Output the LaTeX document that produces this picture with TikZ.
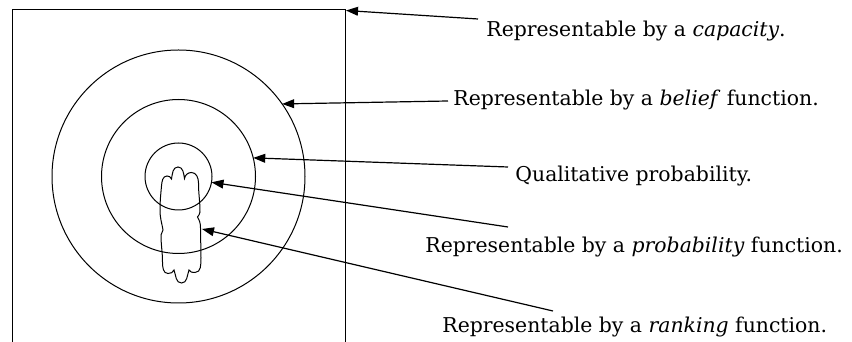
\documentclass[tikz,border=0pt]{standalone}
\usepackage{fontspec}
\setmainfont{DejaVu Serif}
\usetikzlibrary{arrows.meta}
\begin{document}
\begin{tikzpicture}[x=0.5pt,y=0.5pt,
  ring/.style={draw,circle,inner sep=0pt,outer sep=0pt,line width=0.5pt},
  lbl/.style={anchor=base west,inner sep=0pt,font=\fontsize{10.2}{12}\selectfont},
  pointer/.style={-{Triangle[length=6pt,width=4.4pt]},line width=0.6pt}]
\useasboundingbox (0,0) rectangle (852,342);
% frame (capacities)
\coordinate (frTL) at (12,332);
\coordinate (frTR) at (345,332);
\draw[line width=0.5pt] (12,0) -- (frTL) -- (frTR) -- (345,0);
% circles
\node[ring,minimum size=126.5pt] (belief) at (178.5,165.5) {};
\node[ring,minimum size=77pt] (qual) at (178.5,165.5) {};
\node[ring,minimum size=33.5pt] (prob) at (178.5,165.5) {};
% cloud (ranking)
\draw[line width=0.5pt] (161.5,156) to[out=85,in=180] (167,166) to[out=0,in=110] (171.5,163)
  to[out=80,in=180] (178,175) to[out=0,in=100] (184.5,163.5)
  to[out=80,in=180] (191.5,169.5) to[out=0,in=90] (198.5,159)
  to[out=-90,in=90] (200,130) to[out=-90,in=60] (197.5,125)
  to[out=-60,in=90] (200.5,114) to[out=-90,in=90] (201,84)
  to[out=-90,in=0] (195,69.5) to[out=180,in=-70] (189,72)
  to[out=-110,in=0] (181.5,59) to[out=180,in=-70] (174,72)
  to[out=-110,in=0] (168,68.5) to[out=180,in=-90] (162.5,80)
  to[out=90,in=-90] (161,107) to[out=80,in=-100] (163,112)
  to[out=100,in=-90] (160,132) to[out=90,in=-95] (161.5,156);
\coordinate (ranktip) at (202,113);
% labels
\node[lbl] (tcap) at (486,305) {Representable by a \emph{capacity}.};
\node[lbl] (tbel) at (453,236) {Representable by a \emph{belief} function.};
\node[lbl] (tqual) at (515,160) {Qualitative probability.};
\node[lbl] (tprob) at (425,89) {Representable by a \emph{probability} function.};
\node[lbl] (trank) at (442,9) {Representable by a \emph{ranking} function.};
% arrow tails
\coordinate (acap) at (478,323);
\coordinate (abel) at (448,241);
\coordinate (aqual) at (508,175);
\coordinate (aprob) at (508,115);
\coordinate (arank) at (553,31);
\draw[pointer] (acap) -- (346,331.5);
\draw[pointer] (abel) -- (belief.35.6);
\draw[pointer] (aqual) -- (qual.14.5);
\draw[pointer] (aprob) -- (prob.-10.7);
\draw[pointer] (arank) -- (ranktip);
\end{tikzpicture}
\end{document}
